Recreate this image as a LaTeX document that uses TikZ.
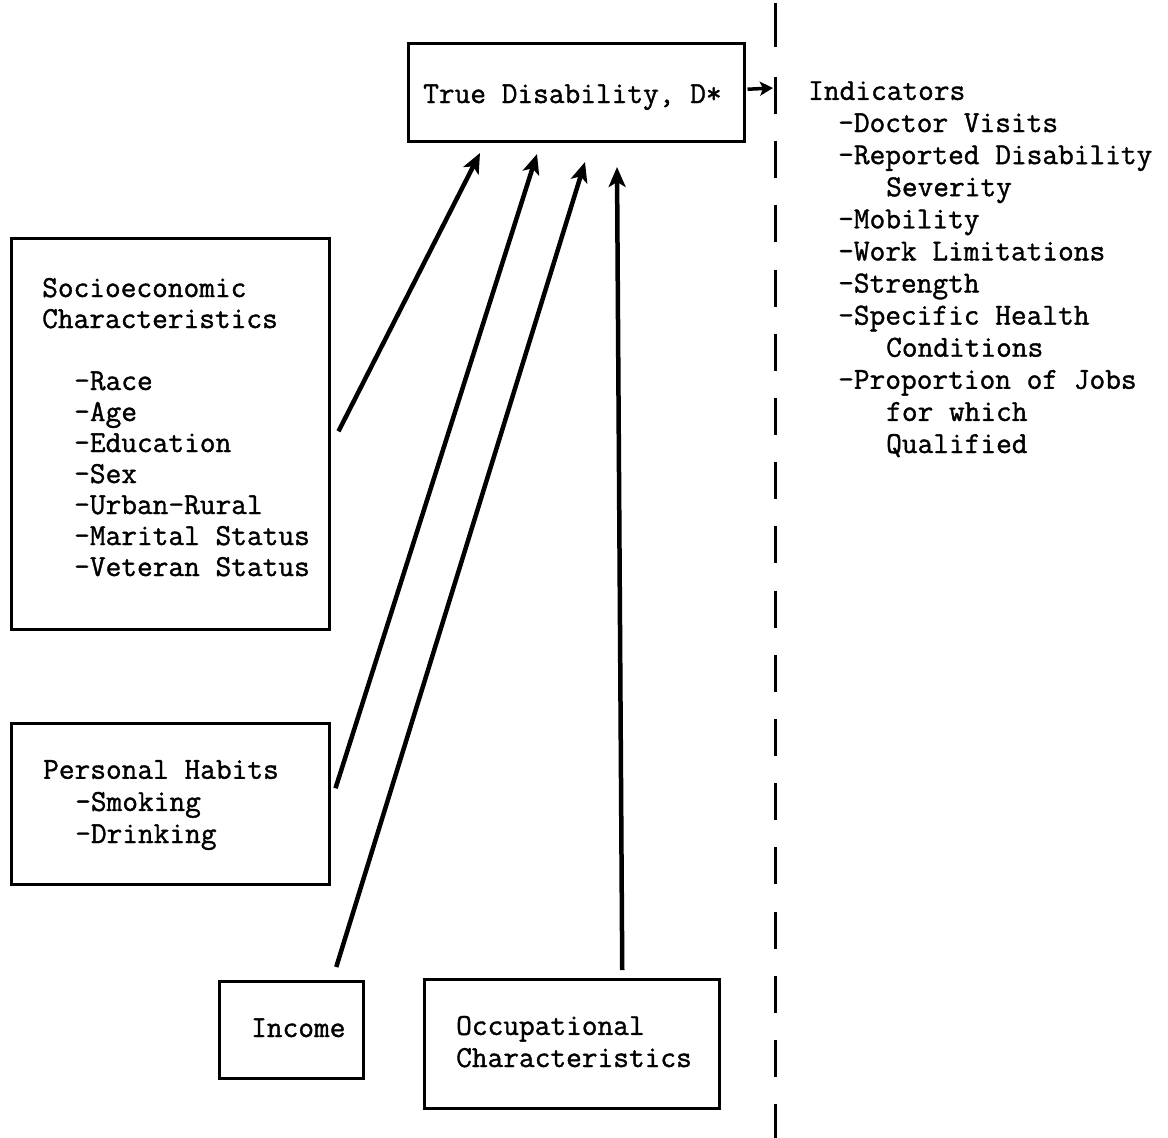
\documentclass[tikz,border=0pt]{standalone}
\usepackage{fontspec}
\newfontfamily\typew{Latin Modern Mono}[FakeBold=1.2]
\usetikzlibrary{arrows.meta}
\begin{document}
\begin{tikzpicture}[x=1pt,y=-1pt,
  boxnode/.style={draw, line width=2.5pt, inner sep=0pt, anchor=north west},
  txt/.style={inner sep=0pt, anchor=base west, align=left},
  tt31/.style={font=\typew\fontsize{30.5}{31}\selectfont},
  tt32/.style={font=\typew\fontsize{30.5}{32.1}\selectfont},
  arr/.style={line width=4.5pt, -{Stealth[length=20pt,width=17pt,inset=5pt]}},
  smallarr/.style={line width=3.5pt, -{Stealth[length=13pt,width=14pt,inset=3pt]}},
  dashline/.style={line width=3pt, dash pattern=on 37pt off 27.2pt}
]
\useasboundingbox (0,0) rectangle (1168,1138);

% boxes
\node[boxnode, minimum width=336pt, minimum height=98pt] (true) at (407,42) {};
\node[boxnode, minimum width=318pt, minimum height=391pt] (socio) at (10,237) {};
\node[boxnode, minimum width=318pt, minimum height=161pt] (habits) at (10,722) {};
\node[boxnode, minimum width=144pt, minimum height=97pt] (income) at (218,980) {};
\node[boxnode, minimum width=295pt, minimum height=129pt] (occ) at (423,978) {};

% texts (anchor = baseline of the last line)
\node[txt, tt32] (trueT) at (423,103) {True Disability, D*};
\node[txt, tt31] (socioT) at (42,576) {Socioeconomic\\Characteristics\\[31pt]
\hspace*{32pt}-Race\\
\hspace*{32pt}-Age\\
\hspace*{32pt}-Education\\
\hspace*{32pt}-Sex\\
\hspace*{32pt}-Urban-Rural\\
\hspace*{32pt}-Marital Status\\
\hspace*{32pt}-Veteran Status};
\node[txt, tt32] (habitsT) at (43,843) {Personal Habits\\
\hspace*{32pt}-Smoking\\
\hspace*{32pt}-Drinking};
\node[txt, tt32] (incomeT) at (251,1037) {Income};
\node[txt, tt32] (occT) at (456,1067) {Occupational\\Characteristics};
\node[txt, tt32] (indT) at (808,453) {Indicators\\
\hspace*{30pt}-Doctor Visits\\
\hspace*{30pt}-Reported Disability\\
\hspace*{78pt}Severity\\
\hspace*{30pt}-Mobility\\
\hspace*{30pt}-Work Limitations\\
\hspace*{30pt}-Strength\\
\hspace*{30pt}-Specific Health\\
\hspace*{78pt}Conditions\\
\hspace*{30pt}-Proportion of Jobs\\
\hspace*{78pt}for which\\
\hspace*{78pt}Qualified};

% dashed divider
\coordinate (d0) at (775,3);
\coordinate (d1) at (775,47);
\coordinate (d2) at (775,77);
\coordinate (d3) at (775,1138);
\draw[line width=3pt] (d0) -- (d1);
\draw[dashline] (d2) -- (d3);

% arrow heads
\coordinate (h0) at (773,88);
\coordinate (h1) at (480,153);
\coordinate (h2) at (537,154);
\coordinate (h3) at (585,162);
\coordinate (h4) at (617,167);

\draw[smallarr] ([shift={(2,-3)}]true.east) -- (h0);
\draw[arr] ([shift={(8,-2.5)}]socio.east) -- (h1);
\draw[arr] ([shift={(5,-15.5)}]habits.east) -- (h2);
\draw[arr] ([shift={(45,-13)}]income.north) -- (h3);
\draw[arr] ([shift={(50.5,-8)}]occ.north) -- (h4);
\end{tikzpicture}
\end{document}
